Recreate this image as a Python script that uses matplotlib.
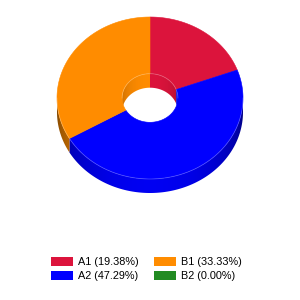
import numpy as np
import matplotlib
matplotlib.use("Agg")
import matplotlib.pyplot as plt
from matplotlib.patches import Polygon
from matplotlib.colors import to_rgb

labels = ["A1", "A2", "B1", "B2"]
values = [19.38, 47.29, 33.33, 0.00]
colors = ["#DC143C", "#0000FF", "#FF8C00", "#228B22"]

# geometry (pixels)
CX, CY = 150.0, 98.0
RX, RY = 93.0, 81.0
DEPTH = 14.0
INNER = 0.30

fig = plt.figure(figsize=(3, 3), dpi=100)
ax = fig.add_axes([0, 0, 1, 1])
ax.set_xlim(0, 300)
ax.set_ylim(300, 0)
ax.axis("off")


def pt(t, r=1.0, dy=0.0):
    return CX + r * RX * np.cos(t), CY - r * RY * np.sin(t) + dy


total = sum(values)
start = 90.0
slices = []
for lab, v, c in zip(labels, values, colors):
    span = 360.0 * v / total
    slices.append((start, start - span, c))
    start -= span

xs = np.linspace(0.5, 299.5, 600)


def gradient_image(col, r, lo_f, hi_f):
    base = np.array(to_rgb(col))
    u = np.clip((xs - CX) / (r * RX), -1, 1)
    s = np.sqrt(1 - u ** 2)
    f = lo_f + (hi_f - lo_f) * s
    img = np.clip(base[None, :] * f[:, None], 0, 1)
    return img[None, :, :]


def wall(a1, a2, r, lo, hi, lo_f, hi_f, col, z):
    for k in range(-2, 2):
        s = max(a2, lo + 360 * k)
        e = min(a1, hi + 360 * k)
        if e <= s:
            continue
        ts = np.radians(np.linspace(s, e, 120))
        tx, ty = pt(ts, r)
        verts = np.column_stack([np.concatenate([tx, tx[::-1]]),
                                 np.concatenate([ty, ty[::-1] + DEPTH])])
        poly = Polygon(verts, closed=True, facecolor="none", edgecolor="none")
        ax.add_patch(poly)
        im = ax.imshow(gradient_image(col, r, lo_f, hi_f), extent=(0, 300, 300, 0),
                       aspect="auto", interpolation="bilinear", zorder=z)
        im.set_clip_path(poly)


for a1, a2, c in slices:
    if a1 - a2 <= 0:
        continue
    wall(a1, a2, 1.0, -180, 0, 0.48, 0.95, c, 1)
    wall(a1, a2, INNER, 0, 180, 0.78, 1.0, c, 1)

for a1, a2, c in slices:
    if a1 - a2 <= 0:
        continue
    ts = np.radians(np.linspace(a1, a2, 200))
    ox, oy = pt(ts, 1.0)
    ix, iy = pt(ts[::-1], INNER)
    verts = np.column_stack([np.concatenate([ox, ix]), np.concatenate([oy, iy])])
    ax.add_patch(Polygon(verts, closed=True, facecolor=c, edgecolor=c, linewidth=0.4, zorder=3))

# faint rim highlights
tf = np.radians(np.linspace(-180, 0, 200))
fx, fy = pt(tf, 1.0)
ax.plot(fx, fy, color="white", alpha=0.25, linewidth=0.6, zorder=4)
tb = np.radians(np.linspace(0, 180, 100))
bx, by = pt(tb, INNER)
ax.plot(bx, by, color="white", alpha=0.25, linewidth=0.6, zorder=4)

handles = [plt.Rectangle((0, 0), 1, 1, facecolor=c, edgecolor="none") for c in colors]
leg_labels = [f"{l} ({v:.2f}%)" for l, v in zip(labels, values)]
fig.legend(handles, leg_labels, ncol=2, loc="upper left", bbox_to_anchor=(0.171, 0.1433),
           frameon=False, prop={"family": "Liberation Sans", "size": 7.8},
           handlelength=2.04, handleheight=0.83, handletextpad=0.46,
           columnspacing=1.35, labelspacing=0.38, borderpad=0, borderaxespad=0)

fig.savefig("out.png", dpi=100)
